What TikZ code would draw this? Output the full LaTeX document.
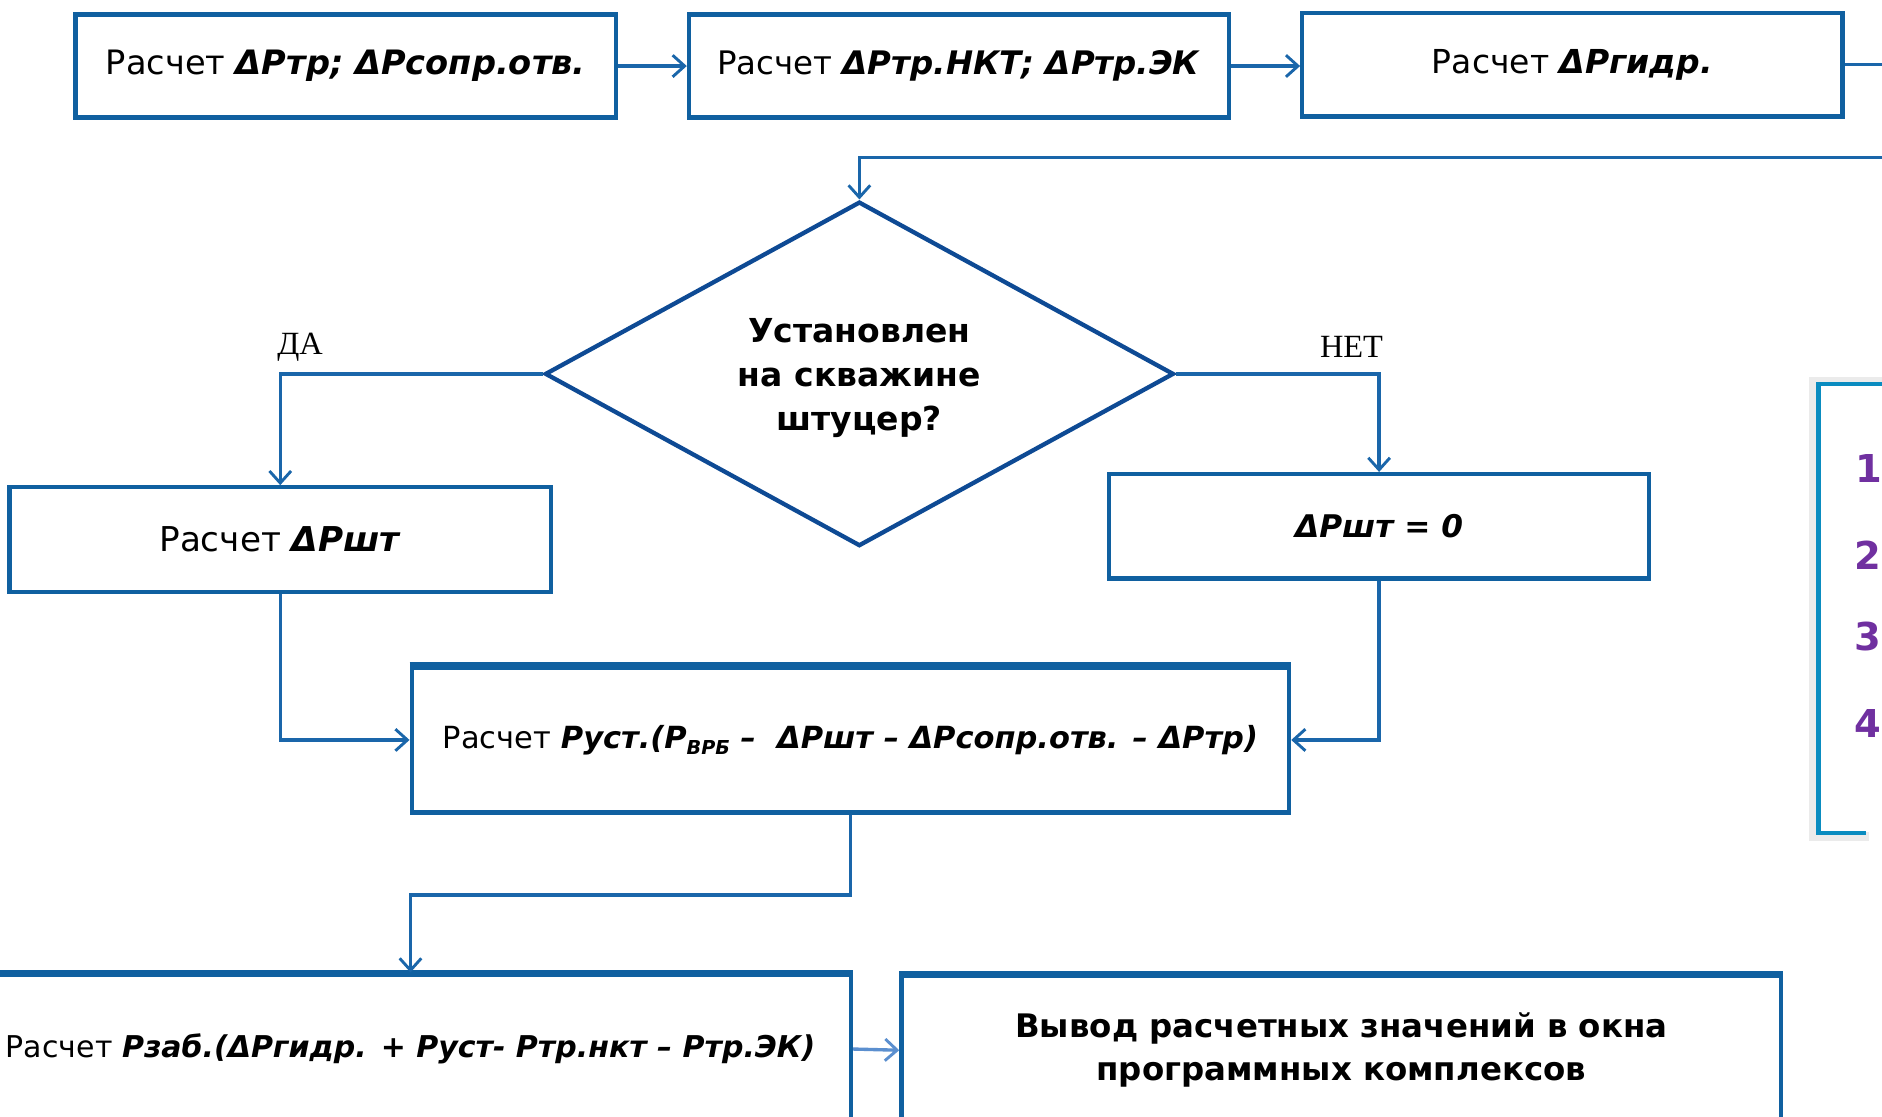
\documentclass[tikz,border=0pt]{standalone}
\usepackage{fontspec}
\setmainfont{DejaVu Sans}
\newfontfamily\serifru{Liberation Serif}
\usetikzlibrary{shapes.geometric,arrows.meta}
\definecolor{boxblue}{HTML}{1060A0}
\definecolor{diablue}{HTML}{0E4A94}
\definecolor{linkblue}{HTML}{1A66AA}
\definecolor{lightlink}{HTML}{5B8FCF}
\definecolor{brkblue}{HTML}{0A8CC0}
\definecolor{numpurple}{HTML}{7030A0}
\newcommand{\bi}[1]{\textbf{\textit{#1}}}
\newcommand{\fs}[1]{\fontsize{#1}{#1}\selectfont}
\begin{document}
\begin{tikzpicture}[x=1pt,y=-1pt,
  procbox/.style={draw=boxblue,line width=3.6pt,fill=white,inner sep=0pt,align=center,
    font=\fontsize{27.5}{32}\selectfont},
  decbox/.style={diamond,draw=diablue,line width=3.6pt,fill=white,inner sep=0pt,
    minimum width=524pt,minimum height=287pt,aspect=1.83},
  dectext/.style={align=center,inner sep=0pt,font=\fontsize{27.5}{37}\selectfont\bfseries},
  link/.style={draw=linkblue,line width=2.8pt,
    -{Straight Barb[length=10pt,width=18pt,line width=2.4pt]}},
  plainlink/.style={draw=linkblue,line width=2.8pt},
  lbl/.style={font=\serifru\fontsize{27}{30}\selectfont,inner sep=0pt},
  num/.style={font=\fontsize{32}{34}\selectfont\bfseries,text=numpurple,inner sep=0pt,anchor=west}]
\useasboundingbox (0,0) rectangle (1568,930);
\fill[white] (0,0) rectangle (1568,930);
\clip (0,0) rectangle (1568,930);

% top row
\node[procbox,minimum width=450pt,minimum height=86pt,font=\fs{28}] (b1) at (288,55)
  {Расчет \bi{ΔPтр; ΔPсопр.отв.}};
\node[procbox,minimum width=450pt,minimum height=86pt,font=\fs{27}] (b2) at (799,55)
  {Расчет \bi{ΔPтр.НКТ; ΔPтр.ЭК}};
\node[procbox,minimum width=450pt,minimum height=86pt,font=\fs{27.5}] (b3) at (1310,54)
  {Расчет \bi{ΔPгидр.}};
\coordinate (exitA) at (1590,54);
\coordinate (loopA) at (1590,131);

% decision
\node[decbox] (dia) at (716,311.5) {};
\node[dectext] (diat) at (716,315) {Установлен\\на скважине\\штуцер?};
\node[lbl] (da) at (250,289) {ДА};
\node[lbl] (net) at (1126,289) {НЕТ};

\node[procbox,minimum width=451pt,minimum height=87pt,font=\fs{28.5}] (b4) at (233.5,449.5)
  {Расчет \bi{ΔPшт}};
\node[procbox,minimum width=450pt,minimum height=87pt,font=\fs{26}] (b5) at (1149,438.5)
  {\bi{ΔPшт = 0}};
\node[procbox,minimum width=731pt,minimum height=121pt,font=\fs{25.4}] (b6) at (708.5,616.5)
  {Расчет \bi{Pуст.(P\raisebox{-0.35ex}{\fs{16}ВРБ} –~~ΔPшт – ΔPсопр.отв. – ΔPтр)}};
\node[procbox,minimum width=734pt,minimum height=124pt,font=\fs{25}] (b7) at (342,874)
  {Расчет \bi{Pзаб.(ΔPгидр. + Pуст- Pтр.нкт – Pтр.ЭК)}};
\node[procbox,minimum width=733pt,minimum height=124pt,font=\fontsize{27}{36}\selectfont\bfseries] (b8) at (1117.5,875)
  {Вывод расчетных значений в окна\\программных комплексов};
\foreach \b in {b6,b7,b8} \draw[boxblue,line width=4.6pt] (\b.north west) -- (\b.north east);

% connectors
\draw[link] (b1.east) -- (b2.west);
\draw[link] (b2.east) -- (b2.east -| b3.west);
\draw[plainlink] (b3.east) -- (exitA);
\draw[link] (loopA) -- (loopA -| dia.north) -- (dia.north);
\draw[link] (dia.west) -| (b4.north);
\draw[link] (dia.east) -| (b5.north);
\draw[link] (b4.south) |- (b6.west);
\draw[link] (b5.south) |- (b6.east);
\draw[link] (b6.south) -- ++(0,67) -| (b7.north);
\draw[link,draw=lightlink] (b7.east) -- (b8.west);

% right partial panel
\draw[gray!25,line width=7pt,opacity=0.6] (1590,318) -- (1511,318) -- (1511,697) -- (1557,697);
\draw[brkblue,line width=4pt] (1590,320) -- (1515,320) -- (1515,694) -- (1555,694);
\node[num] (n1) at (1546,390) {1};
\node[num] (n2) at (1545,463) {2};
\node[num] (n3) at (1545,530) {3};
\node[num] (n4) at (1545,603) {4};
\end{tikzpicture}
\end{document}
